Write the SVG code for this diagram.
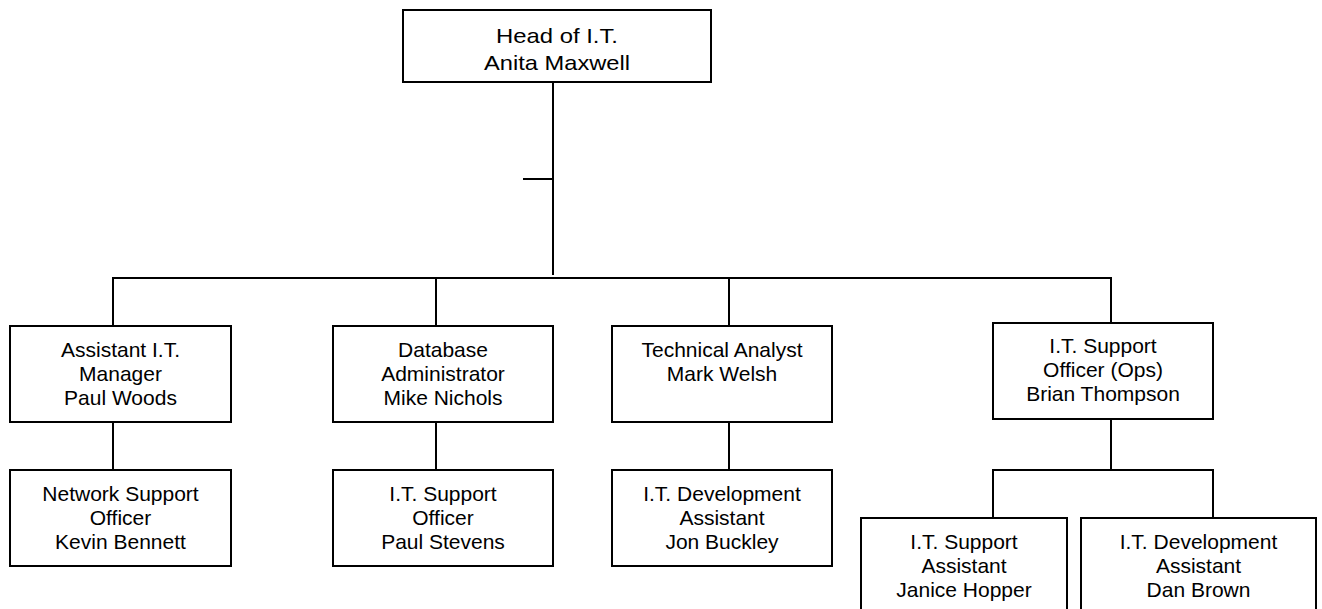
<svg xmlns="http://www.w3.org/2000/svg" width="1322" height="609" viewBox="0 0 1322 609">
  <style>
    .box { fill: #ffffff; stroke: #000000; stroke-width: 2; }
    .link { fill: none; stroke: #000000; stroke-width: 2; }
    .label { font-family: "Liberation Sans", Arial, sans-serif; font-size: 21px; fill: #000000; text-anchor: middle; }
  </style>
  <rect width="1322" height="609" fill="#ffffff"/>

  <!-- reporting lines -->
  <g id="connectors">
    <path class="link" d="M553 82 V275"/>
    <path class="link" d="M523 179 H553"/>
    <path class="link" d="M113 326 V278 H1111 V323"/>
    <path class="link" d="M436 278 V326"/>
    <path class="link" d="M729 278 V326"/>
    <path class="link" d="M113 422 V470"/>
    <path class="link" d="M436 422 V470"/>
    <path class="link" d="M729 422 V470"/>
    <path class="link" d="M1111 419 V470"/>
    <path class="link" d="M993 518 V470 H1213 V518"/>
  </g>

  <g id="head-of-it">
    <rect class="box" x="403" y="10" width="308" height="72"/>
    <text class="label" x="557" y="43" textLength="122" lengthAdjust="spacingAndGlyphs">Head of I.T.</text>
    <text class="label" x="557" y="70" textLength="146" lengthAdjust="spacingAndGlyphs">Anita Maxwell</text>
  </g>

  <g id="assistant-it-manager">
    <rect class="box" x="10" y="326" width="221" height="96"/>
    <text class="label" x="120.5" y="357">Assistant I.T.</text>
    <text class="label" x="120.5" y="381">Manager</text>
    <text class="label" x="120.5" y="405">Paul Woods</text>
  </g>

  <g id="database-administrator">
    <rect class="box" x="333" y="326" width="220" height="96"/>
    <text class="label" x="443" y="357">Database</text>
    <text class="label" x="443" y="381">Administrator</text>
    <text class="label" x="443" y="405">Mike Nichols</text>
  </g>

  <g id="technical-analyst">
    <rect class="box" x="612" y="326" width="220" height="96"/>
    <text class="label" x="722" y="357">Technical Analyst</text>
    <text class="label" x="722" y="381">Mark Welsh</text>
  </g>

  <g id="it-support-officer-ops">
    <rect class="box" x="993" y="323" width="220" height="96"/>
    <text class="label" x="1103" y="353">I.T. Support</text>
    <text class="label" x="1103" y="377">Officer (Ops)</text>
    <text class="label" x="1103" y="401">Brian Thompson</text>
  </g>

  <g id="network-support-officer">
    <rect class="box" x="10" y="470" width="221" height="96"/>
    <text class="label" x="120.5" y="501">Network Support</text>
    <text class="label" x="120.5" y="525">Officer</text>
    <text class="label" x="120.5" y="549">Kevin Bennett</text>
  </g>

  <g id="it-support-officer">
    <rect class="box" x="333" y="470" width="220" height="96"/>
    <text class="label" x="443" y="501">I.T. Support</text>
    <text class="label" x="443" y="525">Officer</text>
    <text class="label" x="443" y="549">Paul Stevens</text>
  </g>

  <g id="it-development-assistant-jb">
    <rect class="box" x="612" y="470" width="220" height="96"/>
    <text class="label" x="722" y="501">I.T. Development</text>
    <text class="label" x="722" y="525">Assistant</text>
    <text class="label" x="722" y="549">Jon Buckley</text>
  </g>

  <g id="it-support-assistant">
    <rect class="box" x="861" y="518" width="206" height="96"/>
    <text class="label" x="964" y="549">I.T. Support</text>
    <text class="label" x="964" y="573">Assistant</text>
    <text class="label" x="964" y="597">Janice Hopper</text>
  </g>

  <g id="it-development-assistant-db">
    <rect class="box" x="1081" y="518" width="235" height="96"/>
    <text class="label" x="1198.5" y="549">I.T. Development</text>
    <text class="label" x="1198.5" y="573">Assistant</text>
    <text class="label" x="1198.5" y="597">Dan Brown</text>
  </g>
</svg>
